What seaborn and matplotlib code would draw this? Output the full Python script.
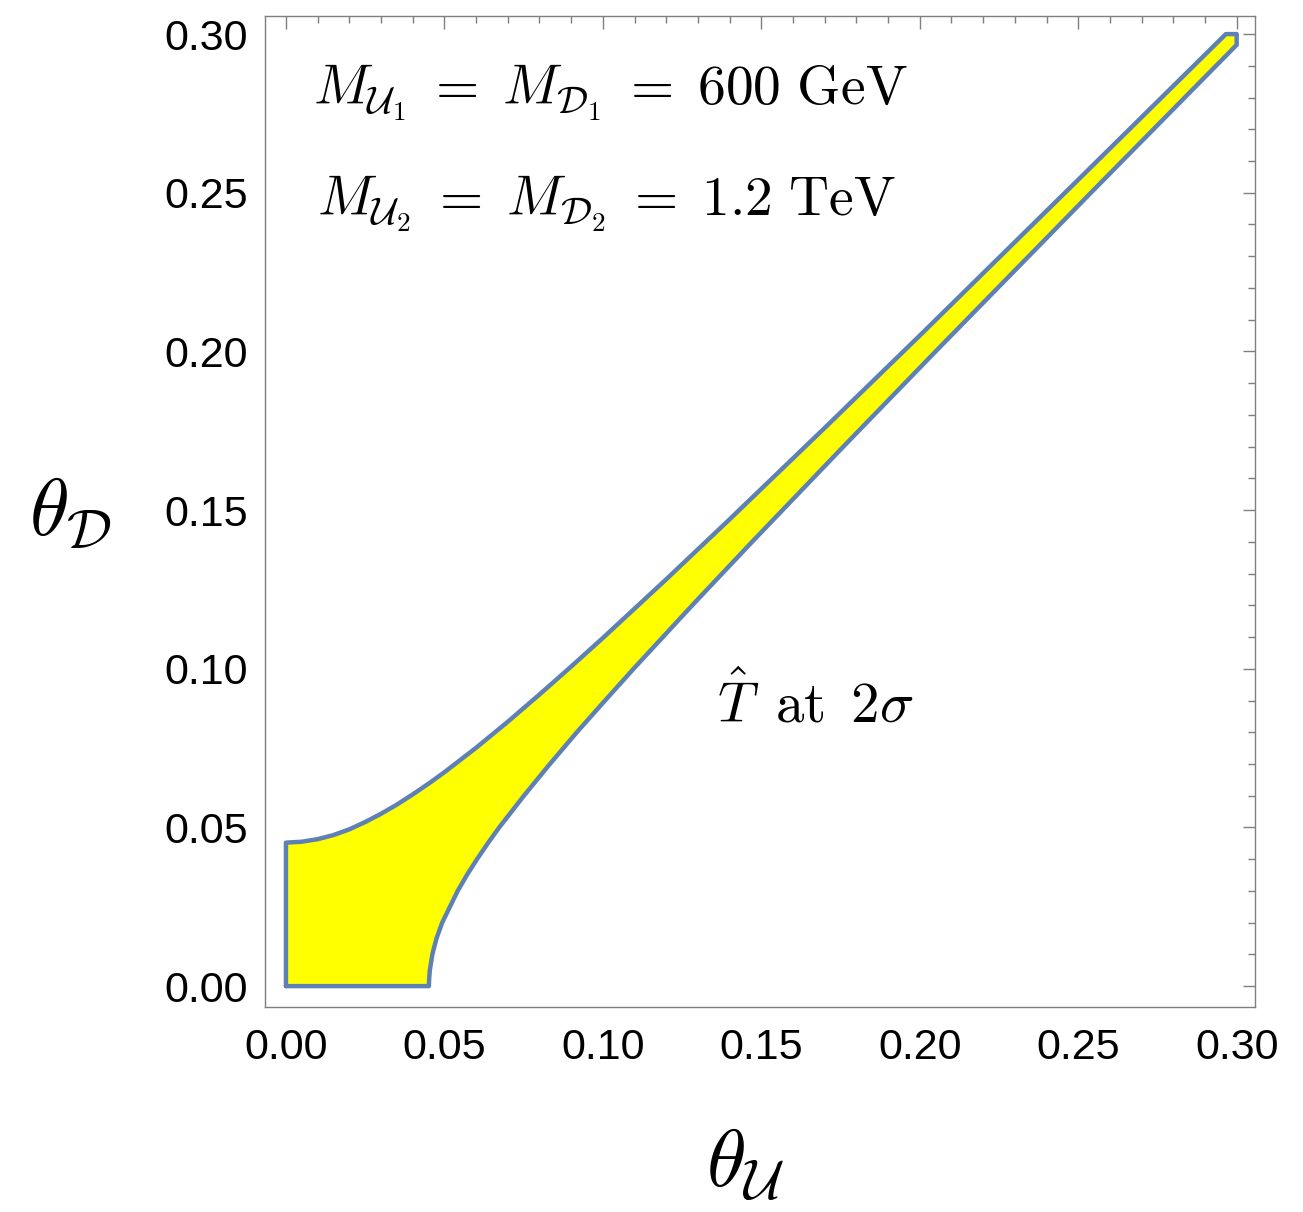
import numpy as np
import matplotlib
matplotlib.use('Agg')
import matplotlib.pyplot as plt
import seaborn as sns

# boundary of the allowed region
upper_x = [0.000, 0.005, 0.010, 0.015, 0.020, 0.025, 0.030, 0.035, 0.040, 0.045, 0.050,
           0.060, 0.070, 0.080, 0.090, 0.100, 0.120, 0.140, 0.170, 0.200, 0.250, 0.2966]
upper_y = [0.0452, 0.0455, 0.0463, 0.0476, 0.0494, 0.0517, 0.0543, 0.0572, 0.0604, 0.0638, 0.0674,
           0.0751, 0.0833, 0.0919, 0.1007, 0.1097, 0.1282, 0.1471, 0.1759, 0.2050, 0.2541, 0.300]

lower_x = [0.0451, 0.0452, 0.0454, 0.0462, 0.0475, 0.0493, 0.0542, 0.0571, 0.0603, 0.0637, 0.0673,
           0.0751, 0.0833, 0.0918, 0.1007, 0.1097, 0.1282, 0.1471, 0.1759, 0.2050, 0.2540, 0.300]
lower_y = [0.000, 0.0025, 0.005, 0.010, 0.015, 0.020, 0.030, 0.035, 0.040, 0.045, 0.050,
           0.060, 0.070, 0.080, 0.090, 0.100, 0.120, 0.140, 0.170, 0.200, 0.250, 0.2966]

corner_x = [0.300]
corner_y = [0.300]

tick_vals = [0.00, 0.05, 0.10, 0.15, 0.20, 0.25, 0.30]

sns.set_theme(style='white')
plt.rcParams['font.family'] = ['Liberation Sans', 'DejaVu Sans']
plt.rcParams['mathtext.fontset'] = 'cm'

# closed outline: origin -> up the left edge -> upper curve -> corner -> lower curve back down
poly_x = [0.0] + upper_x + corner_x + lower_x[::-1] + [0.0]
poly_y = [0.0] + upper_y + corner_y + lower_y[::-1] + [0.0]

fig = plt.figure(figsize=(13.03, 12.12), dpi=100)
ax = fig.add_axes([0.2034, 0.1691, 0.7598, 0.8177])

ax.fill(poly_x, poly_y, color='#FFFF00', zorder=2)
sns.lineplot(x=poly_x, y=poly_y, sort=False, estimator=None, color='#5E81B5',
             linewidth=3.2, solid_joinstyle='round', ax=ax, zorder=3)

ax.set_xlim(-0.0066, 0.3058)
ax.set_ylim(-0.0066, 0.3057)

ax.set_xticks(tick_vals)
ax.set_yticks(tick_vals)
ax.set_xticklabels(['%.2f' % v for v in tick_vals])
ax.set_yticklabels(['%.2f' % v for v in tick_vals])
ax.set_xticks(np.arange(0, 0.301, 0.01), minor=True)
ax.set_yticks(np.arange(0, 0.301, 0.01), minor=True)

ax.tick_params(which='both', direction='in', top=True, right=True, color='#7f7f7f', width=1)
ax.tick_params(which='major', length=9, labelsize=31, labelcolor='black')
ax.tick_params(axis='x', which='major', pad=15)
ax.tick_params(axis='y', which='major', pad=12)
ax.tick_params(which='minor', length=5)
ax.tick_params(labeltop=False, labelright=False)

for s in ax.spines.values():
    s.set_color('#7f7f7f')
    s.set_linewidth(1)
    s.set_visible(True)

ax.set_xlabel(r'$\theta_{\mathcal{U}}$', fontsize=58, color='black', va='center')
ax.set_ylabel(r'$\theta_{\mathcal{D}}$', fontsize=58, color='black', rotation=0, va='center', ha='center')
ax.xaxis.set_label_coords(0.485, -0.16)
ax.yaxis.set_label_coords(-0.197, 0.497)

ax.text(0.1025, 0.2813, r'$M_{\mathcal{U}_1} \;=\; M_{\mathcal{D}_1} \;=\; 600\ \mathrm{GeV}$',
        fontsize=40, ha='center', va='center', color='black')
ax.text(0.101, 0.2466, r'$M_{\mathcal{U}_2} \;=\; M_{\mathcal{D}_2} \;=\; 1.2\ \mathrm{TeV}$',
        fontsize=40, ha='center', va='center', color='black')
ax.text(0.1669, 0.0887, r'$\hat{T}\ \,\mathrm{at}\ \,2\sigma$', fontsize=41,
        ha='center', va='center', color='black')

fig.savefig('out.png', dpi=100)
